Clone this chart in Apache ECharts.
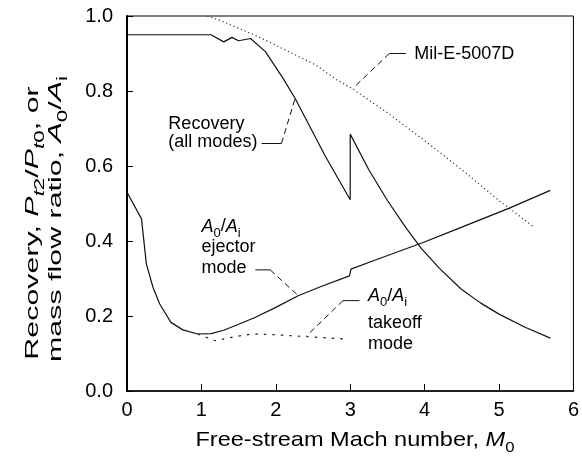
<!DOCTYPE html>
<html>
<head>
<meta charset="utf-8">
<title>Inlet recovery and mass flow ratio</title>
<script src="https://cdn.jsdelivr.net/npm/echarts@6.0.0/dist/echarts.min.js"></script>
</head>
<body style="margin:0">
<div id="main" style="width:582px;height:458px"></div>
<script>
// Mach numbers and values
var machRecovery = [0, 1.13, 1.3, 1.41, 1.5, 1.66, 1.86, 2.1, 2.26, 2.45, 2.66, 2.85, 3.0, 3.0, 3.25, 3.5, 3.75, 3.96, 4.2, 4.49, 4.75, 5.0, 5.35, 5.69];
var recovery = [0.95, 0.95, 0.931, 0.943, 0.934, 0.94, 0.905, 0.833, 0.78, 0.708, 0.628, 0.562, 0.51, 0.685, 0.59, 0.508, 0.435, 0.379, 0.327, 0.272, 0.235, 0.205, 0.17, 0.141];

var machMil = [1.08, 1.24, 1.72, 2.0, 2.54, 2.81, 3.03, 3.5, 4.0, 4.5, 5.0, 5.47];
var milSpec = [1.0, 0.989, 0.949, 0.922, 0.869, 0.831, 0.806, 0.742, 0.668, 0.59, 0.508, 0.437];

var machEjector = [0, 0.195, 0.26, 0.35, 0.44, 0.59, 0.75, 0.95, 1.13, 1.3, 1.5, 1.72, 2.0, 2.3, 2.6, 2.99, 3.01, 3.32, 3.98, 4.5, 5.13, 5.69];
var ejector = [0.53, 0.459, 0.339, 0.276, 0.232, 0.183, 0.163, 0.152, 0.153, 0.162, 0.178, 0.196, 0.223, 0.254, 0.278, 0.307, 0.325, 0.348, 0.396, 0.437, 0.487, 0.535];

var machTakeoff = [0.95, 1.19, 1.45, 1.68, 2.0, 2.41, 2.9];
var takeoff = [0.152, 0.134, 0.145, 0.152, 0.15, 0.145, 0.139];

var xTicks = [0, 1, 2, 3, 4, 5, 6];
var yTicks = [0.0, 0.2, 0.4, 0.6, 0.8, 1.0];

var F = '"Liberation Sans", Arial, Helvetica, sans-serif';
var INK = '#000';

function pairs(xs, ys) {
    var res = [];
    for (var i = 0; i < xs.length; i++) res.push([xs[i], ys[i]]);
    return res;
}

function curve(name, xs, ys, type, width, color) {
    return {
        name: name, type: 'line', data: pairs(xs, ys), symbol: 'none', silent: true,
        lineStyle: {color: color || '#111', width: width, type: type}
    };
}

// leader line from label to curve
function leader(pts, dashed) {
    return {
        type: 'line', data: pts, symbol: 'none', silent: true,
        lineStyle: {color: '#111', width: 1, type: dashed ? [6, 4] : 'solid'}
    };
}

var chart = echarts.init(document.getElementById('main'));

var option = {
    backgroundColor: '#fff',
    animation: false,
    grid: {left: 127, right: 5, top: 16, bottom: 67, show: true, borderColor: '#000', borderWidth: 1},
    xAxis: {
        type: 'value', min: xTicks[0], max: xTicks[xTicks.length - 1], interval: 1,
        axisLine: {lineStyle: {color: '#000', width: 1.5}},
        axisTick: {inside: true, length: 7, lineStyle: {color: '#000'}},
        axisLabel: {color: INK, fontSize: 20, fontFamily: F, margin: 9},
        splitLine: {show: false}
    },
    yAxis: {
        type: 'value', min: yTicks[0], max: yTicks[yTicks.length - 1], interval: 0.2,
        axisLine: {lineStyle: {color: '#000', width: 2}},
        axisTick: {inside: true, length: 6, lineStyle: {color: '#000'}},
        axisLabel: {color: INK, fontSize: 20, fontFamily: F, margin: 14,
            formatter: function (v) { return v.toFixed(1); }},
        splitLine: {show: false}
    },
    series: [
        curve('Recovery', machRecovery, recovery, 'solid', 1.2),
        curve('Mil-E-5007D', machMil, milSpec, [1.2, 2.8], 1.2, '#333'),
        curve('Ejector', machEjector, ejector, 'solid', 1.2),
        curve('Takeoff', machTakeoff, takeoff, [2.5, 6], 1.2, '#222'),
        leader([[3.525, 0.9], [3.747, 0.9]], false),
        leader([[3.525, 0.9], [3.036, 0.807]], true),
        leader([[1.809, 0.66], [2.076, 0.66]], false),
        leader([[2.076, 0.66], [2.259, 0.78]], true),
        leader([[1.725, 0.323], [1.925, 0.323]], false),
        leader([[1.925, 0.323], [2.303, 0.254]], true),
        leader([[2.903, 0.241], [3.125, 0.241]], false),
        leader([[2.903, 0.241], [2.413, 0.147]], true)
    ]
};
chart.setOption(option);

function rich(size) {
    var subSize = Math.round(size * 0.72);
    var base = {fontSize: size, lineHeight: size + 2, verticalAlign: 'top', fontFamily: F, fill: INK};
    var sub = {fontSize: subSize, lineHeight: subSize, verticalAlign: 'top', padding: [Math.round(size * 0.5), 0, 0, 0], fontFamily: F, fill: INK};
    return {
        n: base,
        i: Object.assign({}, base, {fontStyle: 'italic'}),
        s: sub,
        si: Object.assign({}, sub, {fontStyle: 'italic'})
    };
}

function text(pos, str, size, extra) {
    var el = {
        type: 'text', x: pos[0], y: pos[1], silent: true,
        style: {text: str, rich: rich(size), align: 'left', verticalAlign: 'middle',
            fontSize: size, fontFamily: F, fill: INK}
    };
    if (extra) {
        for (var k in extra) {
            if (k === 'style') Object.assign(el.style, extra.style);
            else el[k] = extra[k];
        }
    }
    return el;
}

function at(m, v) {
    return chart.convertToPixel({gridIndex: 0}, [m, v]);
}

var ratio = '{i|A}{s|0}{n|/}{i|A}{s|i}';

chart.setOption({
    graphic: [
        text(at(3.86, 0.896), '{n|Mil-E-5007D}', 18),
        text(at(0.556, 0.709), '{n|Recovery}', 18),
        text(at(0.556, 0.66), '{n|(all modes)}', 18),
        text(at(1.0, 0.436), ratio, 18),
        text(at(1.0, 0.382), '{n|ejector}', 18),
        text(at(1.0, 0.326), '{n|mode}', 18),
        text(at(3.24, 0.251), ratio, 18),
        text(at(3.24, 0.179), '{n|takeoff}', 18),
        text(at(3.24, 0.123), '{n|mode}', 18),
        // axis titles
        text([355, 441], '{n|Free-stream Mach number, }{i|M}{s|0}', 21,
            {scaleX: 1.12, style: {align: 'center'}}),
        text([34, 223], '{n|Recovery, }{i|P}{si|t}{s|2}{n|/}{i|P}{si|t}{s|0}{n|, or}', 19,
            {rotation: Math.PI / 2, scaleX: 1.6, style: {align: 'center'}}),
        text([57, 219], '{n|mass flow ratio, }{i|A}{s|0}{n|/}{i|A}{s|i}', 19,
            {rotation: Math.PI / 2, scaleX: 1.6, style: {align: 'center'}})
    ]
});
</script>
</body>
</html>
